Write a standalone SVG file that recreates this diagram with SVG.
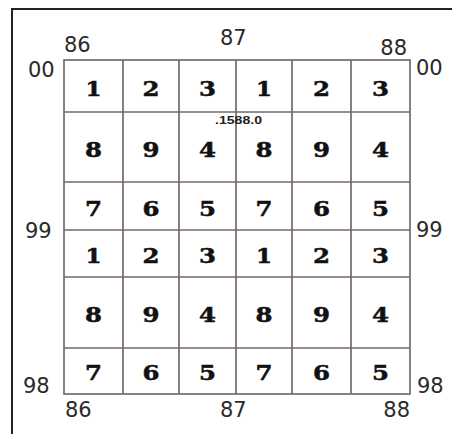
<svg xmlns="http://www.w3.org/2000/svg" width="452" height="434" viewBox="0 0 452 434">
<style>
.frame{stroke:#222;stroke-width:2;fill:none}
.grid{stroke:#746a68;stroke-width:1.7;fill:none}
.d{font-family:"DejaVu Serif","Liberation Serif",serif;font-weight:900;font-size:20px;fill:#111;text-anchor:middle;stroke:#111;stroke-width:0.5}
.l{font-family:"DejaVu Sans","Liberation Sans",sans-serif;font-size:21px;fill:#2a2a2a}
.s{font-family:"Liberation Sans","DejaVu Sans",sans-serif;font-weight:bold;font-size:10px;fill:#222}
</style>
<rect width="452" height="434" fill="#fff"/>
<path class="frame" d="M12,434 V9 H452"/>
<g id="grid" class="grid">
<rect x="64" y="60" width="346" height="334"/>
<path d="M123,60V394M179,60V394M236,60V394M292,60V394M351,60V394"/>
<path d="M64,112H410M64,182H410M64,230H410M64,277H410M64,348H410"/>
</g>
<g id="cells">
<text class="d" x="93.5" y="96" textLength="16" lengthAdjust="spacingAndGlyphs">1</text><text class="d" x="151" y="96" textLength="17" lengthAdjust="spacingAndGlyphs">2</text><text class="d" x="207.5" y="96" textLength="17" lengthAdjust="spacingAndGlyphs">3</text><text class="d" x="264" y="96" textLength="16" lengthAdjust="spacingAndGlyphs">1</text><text class="d" x="321.5" y="96" textLength="17" lengthAdjust="spacingAndGlyphs">2</text><text class="d" x="380.5" y="96" textLength="17" lengthAdjust="spacingAndGlyphs">3</text>
<text class="d" x="93.5" y="157" textLength="17" lengthAdjust="spacingAndGlyphs">8</text><text class="d" x="151" y="157" textLength="17" lengthAdjust="spacingAndGlyphs">9</text><text class="d" x="207.5" y="157" textLength="17" lengthAdjust="spacingAndGlyphs">4</text><text class="d" x="264" y="157" textLength="17" lengthAdjust="spacingAndGlyphs">8</text><text class="d" x="321.5" y="157" textLength="17" lengthAdjust="spacingAndGlyphs">9</text><text class="d" x="380.5" y="157" textLength="17" lengthAdjust="spacingAndGlyphs">4</text>
<text class="d" x="93.5" y="216" textLength="17" lengthAdjust="spacingAndGlyphs">7</text><text class="d" x="151" y="216" textLength="17" lengthAdjust="spacingAndGlyphs">6</text><text class="d" x="207.5" y="216" textLength="17" lengthAdjust="spacingAndGlyphs">5</text><text class="d" x="264" y="216" textLength="17" lengthAdjust="spacingAndGlyphs">7</text><text class="d" x="321.5" y="216" textLength="17" lengthAdjust="spacingAndGlyphs">6</text><text class="d" x="380.5" y="216" textLength="17" lengthAdjust="spacingAndGlyphs">5</text>
<text class="d" x="93.5" y="263" textLength="16" lengthAdjust="spacingAndGlyphs">1</text><text class="d" x="151" y="263" textLength="17" lengthAdjust="spacingAndGlyphs">2</text><text class="d" x="207.5" y="263" textLength="17" lengthAdjust="spacingAndGlyphs">3</text><text class="d" x="264" y="263" textLength="16" lengthAdjust="spacingAndGlyphs">1</text><text class="d" x="321.5" y="263" textLength="17" lengthAdjust="spacingAndGlyphs">2</text><text class="d" x="380.5" y="263" textLength="17" lengthAdjust="spacingAndGlyphs">3</text>
<text class="d" x="93.5" y="322" textLength="17" lengthAdjust="spacingAndGlyphs">8</text><text class="d" x="151" y="322" textLength="17" lengthAdjust="spacingAndGlyphs">9</text><text class="d" x="207.5" y="322" textLength="17" lengthAdjust="spacingAndGlyphs">4</text><text class="d" x="264" y="322" textLength="17" lengthAdjust="spacingAndGlyphs">8</text><text class="d" x="321.5" y="322" textLength="17" lengthAdjust="spacingAndGlyphs">9</text><text class="d" x="380.5" y="322" textLength="17" lengthAdjust="spacingAndGlyphs">4</text>
<text class="d" x="93.5" y="380" textLength="17" lengthAdjust="spacingAndGlyphs">7</text><text class="d" x="151" y="380" textLength="17" lengthAdjust="spacingAndGlyphs">6</text><text class="d" x="207.5" y="380" textLength="17" lengthAdjust="spacingAndGlyphs">5</text><text class="d" x="264" y="380" textLength="17" lengthAdjust="spacingAndGlyphs">7</text><text class="d" x="321.5" y="380" textLength="17" lengthAdjust="spacingAndGlyphs">6</text><text class="d" x="380.5" y="380" textLength="17" lengthAdjust="spacingAndGlyphs">5</text>
</g>
<text class="s" x="215" y="124" textLength="47" lengthAdjust="spacingAndGlyphs">.1588.0</text>
<g id="labels">
<text class="l" x="64" y="52">86</text>
<text class="l" x="220" y="45">87</text>
<text class="l" x="407" y="55" text-anchor="end">88</text>
<text class="l" x="28" y="77">00</text>
<text class="l" x="416" y="75">00</text>
<text class="l" x="25" y="238">99</text>
<text class="l" x="416" y="237">99</text>
<text class="l" x="23" y="393">98</text>
<text class="l" x="417" y="393">98</text>
<text class="l" x="65" y="417">86</text>
<text class="l" x="220" y="417">87</text>
<text class="l" x="410" y="417" text-anchor="end">88</text>
</g>
</svg>
